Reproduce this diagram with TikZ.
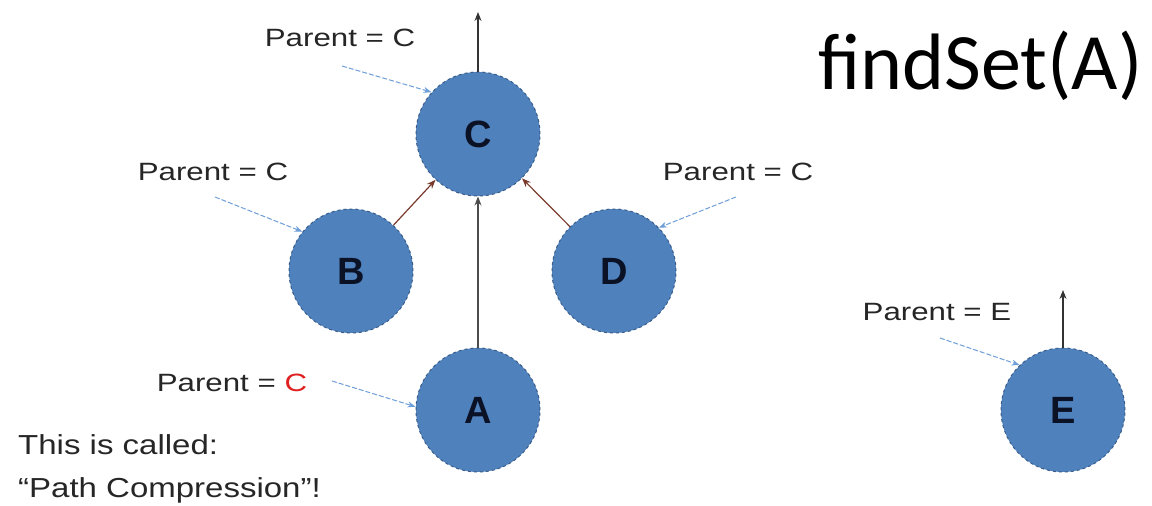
\documentclass[tikz,border=0pt]{standalone}
\usepackage{fontspec}
\setmainfont{Liberation Sans}
\newfontfamily\labfont[FakeStretch=1.25]{Liberation Sans}
\newfontfamily\notefont[FakeStretch=1.2]{Liberation Sans}
\newfontfamily\titlefont{Carlito}
\usetikzlibrary{arrows.meta}
\definecolor{nodeblue}{HTML}{4F81BD}
\definecolor{nodeedge}{HTML}{385D8A}
\definecolor{ptrblue}{HTML}{6F9FD8}
\definecolor{linkbrown}{HTML}{7A3B2E}
\definecolor{redC}{HTML}{E02020}
\definecolor{letter}{HTML}{0B1226}
\tikzset{
  setnode/.style={circle,fill=nodeblue,draw=nodeedge,line width=1pt,dashed,minimum size=124pt,inner sep=0pt,font=\fontsize{38}{40}\selectfont\bfseries,text=letter},
  lbl/.style={font=\labfont\fontsize{25}{27}\selectfont,text=black!85,inner sep=0pt},
  note/.style={font=\notefont\fontsize{27.5}{29}\selectfont,text=black!85,inner sep=0pt},
  ptr/.style={draw=ptrblue,line width=1pt,dashed,dash pattern=on 5pt off 2pt,-{Stealth[length=8pt,width=6pt]}},
  link/.style={draw=linkbrown,line width=1.2pt,-{Stealth[length=9pt,width=7pt]}},
  uplink/.style={draw=black!70,line width=1.2pt,-{Stealth[length=9pt,width=7pt]}}
}
\begin{document}
\begin{tikzpicture}[x=1pt,y=-1pt]
\useasboundingbox[fill=white] (0,0) rectangle (1152,506);
% nodes
\node[setnode] (C) at (478,134) {C};
\node[setnode] (B) at (351,271) {B};
\node[setnode] (D) at (614,271) {D};
\node[setnode] (A) at (478,410) {A};
\node[setnode] (E) at (1063,410) {E};
% title
\node[font=\titlefont\fontsize{80}{82}\selectfont,anchor=base west,inner sep=0pt] (title) at (818,89) {findSet(A)};
% parent links
\draw[link] (B) -- (C);
\draw[link] (D) -- (C);
\draw[uplink] (A) -- (C);
\coordinate (ctop) at (478,12);
\coordinate (etop) at (1063,290);
\draw[uplink,draw=black!80] (C.north) -- (ctop);
\draw[uplink,draw=black!80] (E.north) -- (etop);
% labels
\node[lbl] (lc) at (340,38) {Parent = C};
\node[lbl] (lb) at (213,172) {Parent = C};
\node[lbl] (ld) at (738,172) {Parent = C};
\node[lbl] (la) at (232,383) {Parent = \textcolor{redC}{C}};
\node[lbl] (le) at (937,312) {Parent = E};
% pointer arrows
\coordinate (sc) at (342,66);
\coordinate (sb) at (215,197);
\coordinate (sd) at (736,197);
\coordinate (sa) at (332,381);
\coordinate (se) at (940,338);
\draw[ptr] (sc) -- (C.138);
\draw[ptr] (sb) -- (B.141);
\draw[ptr] (sd) -- (D.44);
\draw[ptr] (sa) -- (A.177);
\draw[ptr] (se) -- (E.134);
% note
\node[note,anchor=west] (n1) at (18,445) {This is called:};
\node[note,anchor=west] (n2) at (18,490) {“Path Compression”!};
\end{tikzpicture}
\end{document}
